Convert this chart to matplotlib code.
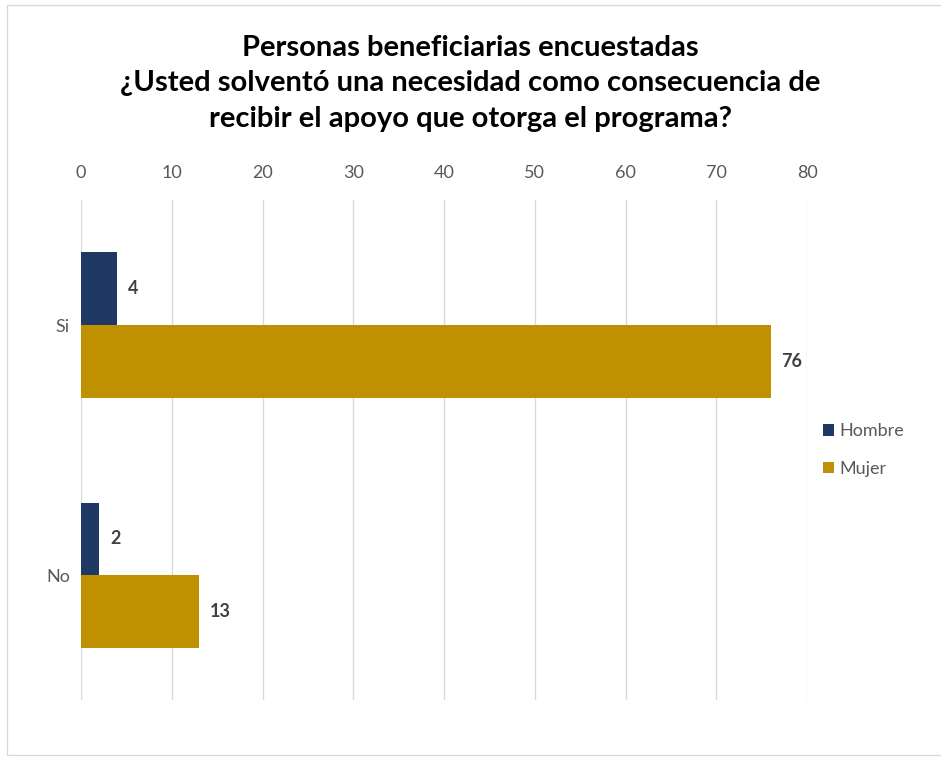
import numpy as np
import matplotlib.pyplot as plt
from matplotlib.patches import Rectangle

# Data
categories = ['Si', 'No']
hombre = [4, 2]
mujer = [76, 13]
series_names = ['Hombre', 'Mujer']
colors = ['#1F3864', '#BF9000']

plt.rcParams['font.family'] = ['Lato', 'DejaVu Sans']

fig = plt.figure(figsize=(9.41, 7.59), dpi=100)
ax = fig.add_axes([0.0861, 0.0777, 0.7715, 0.6588])

y = np.arange(len(categories))
h = 0.29
b1 = ax.barh(y - h / 2, hombre, height=h, color=colors[0], label=series_names[0], zorder=3)
b2 = ax.barh(y + h / 2, mujer, height=h, color=colors[1], label=series_names[1], zorder=3)

for bars in (b1, b2):
    for bar in bars:
        w = bar.get_width()
        ax.text(w + 1.2, bar.get_y() + bar.get_height() / 2, str(int(w)),
                va='center', ha='left', fontsize=13, fontweight='bold', color='#404040')

ax.set_xlim(0, 80)
ax.set_ylim(1.5, -0.5)
ax.set_xticks(range(0, 81, 10))
ax.set_yticks(y)
ax.set_yticklabels(categories)
ax.xaxis.tick_top()
ax.tick_params(axis='both', length=0, labelsize=13, colors='#595959')
ax.tick_params(axis='x', pad=14)
ax.tick_params(axis='y', pad=8)
ax.grid(axis='x', color='#D9D9D9', linewidth=1, zorder=0)
for s in ax.spines.values():
    s.set_visible(False)

ax.legend(loc='center left', bbox_to_anchor=(1.0, 0.5), frameon=False,
          fontsize=13, handlelength=0.6, handleheight=0.6, handletextpad=0.3,
          labelcolor='#595959', labelspacing=1.2)

fig.text(0.5, 0.890, 'Personas beneficiarias encuestadas\n'
         '¿Usted solventó una necesidad como consecuencia de\n'
         'recibir el apoyo que otorga el programa?',
         ha='center', va='center', fontsize=21, fontweight='bold',
         color='#000000', linespacing=1.45)

# light chart border
fig.add_artist(Rectangle((0.007, 0.005), 1.2, 0.988, transform=fig.transFigure,
                         fill=False, edgecolor='#D9D9D9', linewidth=1))

fig.savefig('out.png', dpi=100)
